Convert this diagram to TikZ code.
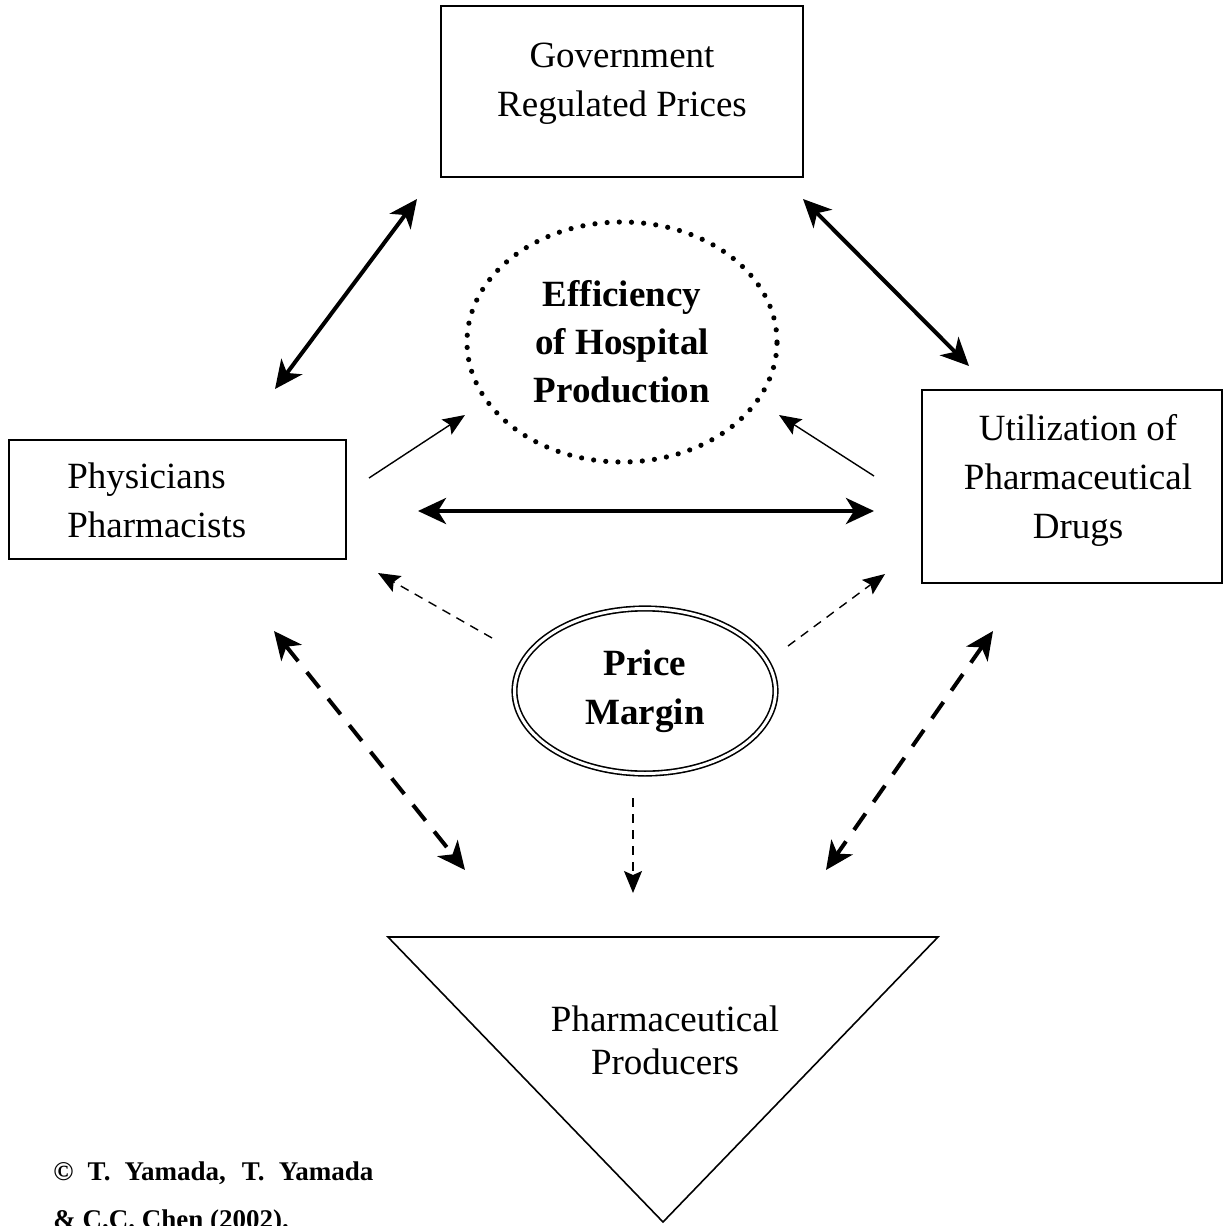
\documentclass[tikz,border=0pt]{standalone}
\usepackage{fontspec}
\setmainfont{Liberation Serif}
\usetikzlibrary{arrows.meta,shapes.geometric}

\tikzset{
	bigtip/.tip={Stealth[length=14pt,width=13pt,inset=4pt]},
	smalltip/.tip={Stealth[length=11pt,width=9pt,inset=2pt]},
	box/.style={draw,line width=1pt,inner sep=0,outer sep=0},
	txt/.style={inner sep=0,align=center,font=\fontsize{18.5}{24.5}\selectfont},
	bigarrow/.style={line width=2pt,bigtip-bigtip},
	bigdash/.style={line width=2pt,dash pattern=on 10pt off 7pt,bigtip-bigtip},
	thinarrow/.style={line width=0.7pt,-smalltip},
	thindash/.style={line width=0.7pt,dash pattern=on 4.5pt off 3.5pt,-smalltip}
}

\begin{document}
\begin{tikzpicture}[x=0.5pt,y=-0.5pt]
	\useasboundingbox (0,0) rectangle (1223,1226);
	\node[box,minimum width=181pt,minimum height=85.5pt] (gov) at (622,91.5) {};
	\node[txt] (govtext) at (622,84) {Government\\Regulated Prices};
	\node[box,minimum width=168.5pt,minimum height=59.5pt] (phys) at (177.5,499.5) {};
	\node[txt,align=left,anchor=west] (physt) at (67,500) {Physicians\\Pharmacists};
	\node[box,minimum width=150pt,minimum height=96.5pt] (util) at (1072,486.5) {};
	\node[txt] (utilt) at (1078,480) {Utilization of\\Pharmaceutical\\Drugs};
	\node[ellipse,draw,line width=2.6pt,line cap=round,dash pattern=on 0pt off 6.1pt,inner sep=0,minimum width=155pt,minimum height=120pt,txt,font=\bfseries\fontsize{18.5}{24}\selectfont] (eff) at (622,342) {Efficiency\\of Hospital\\Production};
	\node[ellipse,draw,line width=0.8pt,double,double distance=1.5pt,inner sep=0,minimum width=130.5pt,minimum height=82.5pt,txt,font=\bfseries\fontsize{18.5}{24.5}\selectfont] (price) at (645,691) {Price\\Margin};
	\coordinate (tl) at (388,937);
	\coordinate (tr) at (938,937);
	\coordinate (tb) at (663,1222);
	\draw[line width=0.8pt] (tl) -- (tr) -- (tb) -- cycle;
	\node[txt,font=\fontsize{18.5}{21.5}\selectfont] (prod) at (665,1040) {Pharmaceutical\\Producers};
	\node[anchor=north west,inner sep=0,text width=160pt,align=justify,font=\bfseries\fontsize{13.5}{24}\selectfont] (copy) at (53,1161) {© T. Yamada, T. Yamada\linebreak \& C.C. Chen (2002).};
	\coordinate (gp1) at (417,199);
	\coordinate (gp2) at (275,389);
	\coordinate (gu1) at (803,199);
	\coordinate (gu2) at (969,366);
	\coordinate (pu1) at (418,511);
	\coordinate (pu2) at (874,511);
	\coordinate (pe1) at (369,478);
	\coordinate (pe2) at (465,415);
	\coordinate (ue1) at (874,476);
	\coordinate (ue2) at (779,415);
	\coordinate (mp1) at (492,638);
	\coordinate (mp2) at (378,573);
	\coordinate (mu1) at (788,646);
	\coordinate (mu2) at (885,574);
	\coordinate (md1) at (633,798);
	\coordinate (md2) at (633,893);
	\coordinate (pd1) at (274,631);
	\coordinate (pd2) at (465,870);
	\coordinate (ud1) at (993,631);
	\coordinate (ud2) at (826,870);
	\draw[bigarrow] (gp1) -- (gp2);
	\draw[bigarrow] (gu1) -- (gu2);
	\draw[bigarrow] (pu1) -- (pu2);
	\draw[thinarrow] (pe1) -- (pe2);
	\draw[thinarrow] (ue1) -- (ue2);
	\draw[thindash] (mp1) -- (mp2);
	\draw[thindash] (mu1) -- (mu2);
	\draw[thindash] (md1) -- (md2);
	\draw[bigdash] (pd1) -- (pd2);
	\draw[bigdash] (ud1) -- (ud2);
\end{tikzpicture}
\end{document}
